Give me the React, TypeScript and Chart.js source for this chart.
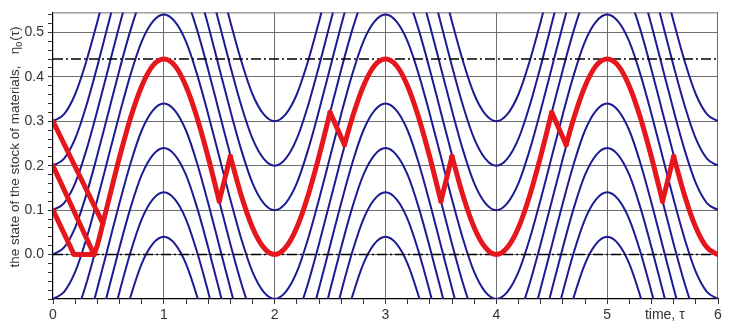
import React, { useEffect, useRef } from 'react';
import { Chart, registerables } from 'chart.js';

Chart.register(...registerables);

// ---------- data ----------
// x offsets inside one half period (trough -> peak)
const halfX = [0, 0.1, 0.2, 0.3, 0.4, 0.5, 0.6, 0.7, 0.8, 0.9, 1.0];
// normalised rise of a blue trajectory (0 at trough, 1 at peak)
const riseProfile = [0, 0.025, 0.095, 0.21, 0.35, 0.5, 0.65, 0.79, 0.905, 0.975, 1];
const blueAmplitude = 0.64;
// level of each blue trajectory at its troughs (x = 0, 2, 4, 6)
const blueTroughLevels = [-0.6, -0.5, -0.4, -0.3, -0.2, -0.1, 0, 0.1, 0.2, 0.3];
const halfPeriodStarts = [0, 1, 2, 3, 4, 5];

// red optimal path: three starting branches
const redBranchA = [{ x: 0, y: 0.3 }, { x: 0.45, y: 0.07 }];
const redBranchB = [{ x: 0, y: 0.2 }, { x: 0.37, y: 0 }];
const redBranchC = [{ x: 0, y: 0.1 }, { x: 0.19, y: 0 }, { x: 0.37, y: 0 }];
// first rise to the peak at x = 1 and descent to x = 1.5
const redFirstX = [0.37, 0.4, 0.45, 0.5, 0.6, 0.7, 0.8, 0.9, 1.0, 1.1, 1.2, 1.3, 1.4, 1.5];
const redFirstY = [0, 0.021, 0.07, 0.12, 0.219, 0.308, 0.379, 0.425, 0.44, 0.425, 0.379, 0.308, 0.219, 0.12];
// arc around a trough (x offsets relative to 2, 4, 6)
const redTroughArcDX = [-0.4, -0.3, -0.2, -0.1, 0, 0.1, 0.2, 0.3, 0.4, 0.5];
const redTroughArcY = [0.221, 0.132, 0.061, 0.016, 0, 0.016, 0.061, 0.132, 0.221, 0.32];
// arc around a later peak (x offsets relative to 3, 5)
const redPeakArcDX = [-0.37, -0.3, -0.2, -0.1, 0, 0.1, 0.2, 0.3, 0.4, 0.5];
const redPeakArcY = [0.247, 0.308, 0.379, 0.425, 0.44, 0.425, 0.379, 0.308, 0.219, 0.12];
const redTroughCentres = [2, 4, 6];
const redPeakCentres = [3, 5];

const upperLevel = 0.44;
const lowerLevel = 0.0;

const xMajorLabels = [0, 1, 2, 3, 4, 5, 6];
const xMinorStep = 0.2;
const yMajorLabels = [0.0, 0.1, 0.2, 0.3, 0.4, 0.5];
const yMinorStep = 0.02;
const yMin = -0.1;
const yMax = 0.545;

const yTitleMain = 'the state of the stock of materials,   η';
const yTitleSub = '0';
const yTitleTail = '(τ)';
const xTitle = 'time, τ';

// ---------- styles ----------
const BLUE = '#1b1b93';
const RED = '#e5161c';
const GRID = '#6e6e6e';
const TEXT = '#333333';
const FONT = '"Liberation Sans", Arial, sans-serif';

function buildBlue(level: number) {
  const pts: { x: number; y: number }[] = [];
  halfPeriodStarts.forEach((h, hi) => {
    halfX.forEach((dx, i) => {
      if (hi > 0 && i === 0) return;
      const f = h % 2 === 0 ? riseProfile[i] : riseProfile[riseProfile.length - 1 - i];
      pts.push({ x: +(h + dx).toFixed(3), y: level + blueAmplitude * f });
    });
  });
  return pts;
}

function redPieces() {
  const pieces: { x: number; y: number }[][] = [];
  const jumps: { x: number; y: number }[][] = [];
  const first = redFirstX.map((x, i) => ({ x, y: redFirstY[i] }));
  pieces.push(first);
  let last = first[first.length - 1];
  const seq: ['t' | 'p', number][] = [
    ['t', redTroughCentres[0]],
    ['p', redPeakCentres[0]],
    ['t', redTroughCentres[1]],
    ['p', redPeakCentres[1]],
    ['t', redTroughCentres[2]],
  ];
  seq.forEach(([kind, c]) => {
    const dxs = kind === 't' ? redTroughArcDX : redPeakArcDX;
    const ys = kind === 't' ? redTroughArcY : redPeakArcY;
    const arc = dxs
      .map((dx, i) => ({ x: +(c + dx).toFixed(3), y: ys[i] }))
      .filter((p) => p.x <= 6.0001);
    jumps.push([last, arc[0]]);
    pieces.push(arc);
    last = arc[arc.length - 1];
  });
  return { pieces, jumps };
}

const decorPlugin = {
  id: 'decor',
  beforeDatasetsDraw(chart: any) {
    const { ctx, chartArea: a } = chart;
    ctx.save();
    ctx.strokeStyle = GRID;
    ctx.lineWidth = 1;
    ctx.beginPath();
    ctx.moveTo(a.left, a.top + 0.5);
    ctx.lineTo(a.right, a.top + 0.5);
    ctx.moveTo(a.right - 0.5, a.top);
    ctx.lineTo(a.right - 0.5, a.bottom);
    ctx.stroke();
    ctx.restore();
  },
  afterDraw(chart: any) {
    const { ctx, chartArea: a } = chart;
    const xs = chart.scales.x;
    ctx.save();
    ctx.fillStyle = TEXT;
    // x title on the tick label row
    ctx.font = `14px ${FONT}`;
    ctx.textAlign = 'center';
    ctx.textBaseline = 'middle';
    ctx.fillText(xTitle, xs.getPixelForValue(5.52), a.bottom + 16);
    // y title, rotated
    const cy = 147;
    ctx.translate(19, cy);
    ctx.rotate(-Math.PI / 2);
    ctx.textAlign = 'left';
    ctx.textBaseline = 'alphabetic';
    ctx.font = `13.5px ${FONT}`;
    const w1 = ctx.measureText(yTitleMain).width;
    const w3 = ctx.measureText(yTitleTail).width;
    ctx.font = `9px ${FONT}`;
    const w2 = ctx.measureText(yTitleSub).width;
    const total = w1 + w2 + w3 + 1;
    let x0 = -total / 2;
    ctx.font = `13.5px ${FONT}`;
    ctx.fillText(yTitleMain, x0, 0);
    x0 += w1;
    ctx.font = `9px ${FONT}`;
    ctx.fillText(yTitleSub, x0, 3);
    x0 += w2 + 1;
    ctx.font = `13.5px ${FONT}`;
    ctx.fillText(yTitleTail, x0, 0);
    ctx.restore();
  },
};

function isMultiple(v: number, step: number) {
  const r = v / step;
  return Math.abs(r - Math.round(r)) < 1e-6;
}

export default function App() {
  const ref = useRef<HTMLCanvasElement>(null);

  useEffect(() => {
    document.body.style.margin = '0';
    const canvas = ref.current;
    if (!canvas) return;

    const datasets: any[] = [];
    const { pieces, jumps } = redPieces();
    const redStyle = {
      borderColor: RED,
      borderWidth: 5,
      pointRadius: 0,
      borderCapStyle: 'round',
      borderJoinStyle: 'round',
      order: 0,
    };
    [redBranchA, redBranchB, redBranchC].forEach((d) =>
      datasets.push({ ...redStyle, data: d, tension: 0 })
    );
    jumps.forEach((d) => datasets.push({ ...redStyle, data: d, tension: 0 }));
    pieces.forEach((d) =>
      datasets.push({ ...redStyle, data: d, cubicInterpolationMode: 'monotone' })
    );
    [upperLevel, lowerLevel].forEach((lv) =>
      datasets.push({
        data: [
          { x: 0, y: lv },
          { x: 6, y: lv },
        ],
        borderColor: '#000000',
        borderWidth: 1.6,
        borderDash: [10, 3, 2, 3],
        pointRadius: 0,
        order: 1,
      })
    );
    blueTroughLevels.forEach((lv) =>
      datasets.push({
        data: buildBlue(lv),
        borderColor: BLUE,
        borderWidth: 2,
        pointRadius: 0,
        cubicInterpolationMode: 'monotone',
        clip: 0,
        order: 2,
      })
    );

    const xTicks: number[] = [];
    for (let i = 0; i <= Math.round((xMajorLabels[xMajorLabels.length - 1] - xMajorLabels[0]) / xMinorStep); i++) {
      xTicks.push(+(xMajorLabels[0] + i * xMinorStep).toFixed(3));
    }
    const yTicks: number[] = [];
    for (let i = 0; i <= Math.floor((yMax - yMin) / yMinorStep + 1e-6); i++) {
      yTicks.push(+(yMin + i * yMinorStep).toFixed(3));
    }

    const chart = new Chart(canvas, {
      type: 'line',
      data: { datasets },
      plugins: [decorPlugin],
      options: {
        responsive: false,
        animation: false,
        parsing: true,
        layout: { padding: { top: 10, right: 14, left: 0, bottom: 0 } },
        plugins: { legend: { display: false }, tooltip: { enabled: false } },
        scales: {
          x: {
            type: 'linear',
            min: 0,
            max: 6,
            afterBuildTicks: (s: any) => {
              s.ticks = xTicks.map((v) => ({ value: v }));
            },
            afterFit: (s: any) => {
              s.height = 29;
            },
            ticks: {
              autoSkip: false,
              maxRotation: 0,
              padding: 3,
              color: TEXT,
              font: { family: FONT, size: 14 },
              callback: (v: any) =>
                xMajorLabels.some((m) => Math.abs(m - v) < 1e-6) ? String(Math.round(v)) : '',
            },
            grid: {
              color: (c: any) => {
                const v = c.tick ? c.tick.value : 0;
                return isMultiple(v, 1) && v > 0.01 && v < 5.99 ? GRID : 'rgba(0,0,0,0)';
              },
              tickColor: TEXT,
              tickLength: 5,
              lineWidth: 1,
            },
            border: { color: '#000000', width: 1.2 },
          },
          y: {
            type: 'linear',
            min: yMin,
            max: yMax,
            afterBuildTicks: (s: any) => {
              s.ticks = yTicks.map((v) => ({ value: v }));
            },
            afterFit: (s: any) => {
              s.width = 53;
            },
            ticks: {
              autoSkip: false,
              padding: 4,
              color: TEXT,
              font: { family: FONT, size: 14 },
              callback: (v: any) => {
                const m = yMajorLabels.find((l) => Math.abs(l - v) < 1e-6);
                return m === undefined ? '' : m.toFixed(1);
              },
            },
            grid: {
              color: (c: any) => {
                const v = c.tick ? c.tick.value : 0;
                return isMultiple(v, 0.1) && v > yMin + 0.01 ? GRID : 'rgba(0,0,0,0)';
              },
              tickColor: TEXT,
              tickLength: 5,
              lineWidth: 1,
            },
            border: { color: '#000000', width: 1.2 },
          },
        },
      },
    } as any);

    return () => chart.destroy();
  }, []);

  return (
    <div style={{ width: 732, height: 328, background: '#ffffff' }}>
      <canvas ref={ref} width={732} height={328} style={{ display: 'block' }} />
    </div>
  );
}
